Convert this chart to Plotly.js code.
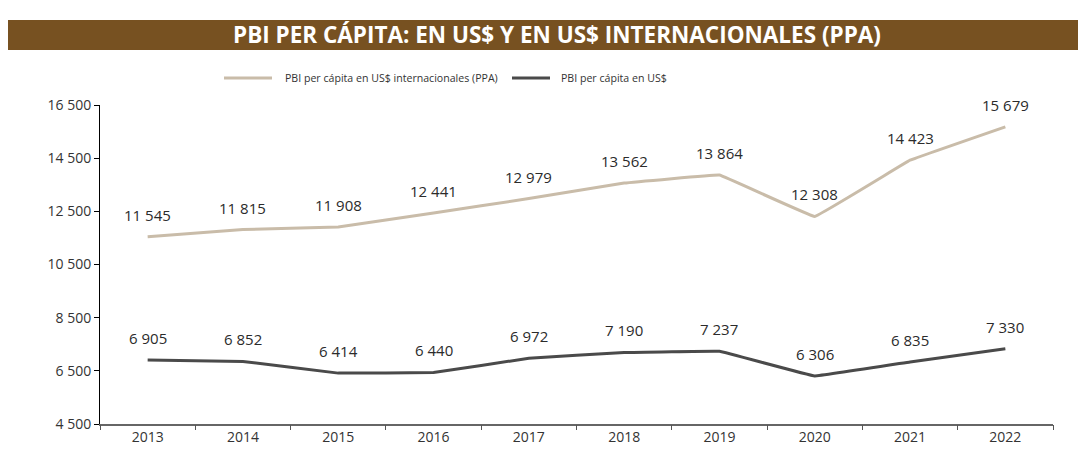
<!DOCTYPE html>
<html>
<head>
<meta charset="utf-8">
<script src="https://cdn.plot.ly/plotly-3.0.1.min.js"></script>
<style>html,body{margin:0;padding:0;background:#fff;}#chart{width:1085px;height:457px;}</style>
</head>
<body>
<div id="chart"></div>
<script>
const years = ["2013","2014","2015","2016","2017","2018","2019","2020","2021","2022"];
const ppa = [11545, 11815, 11908, 12441, 12979, 13562, 13864, 12308, 14423, 15679];
const usd = [6905, 6852, 6414, 6440, 6972, 7190, 7237, 6306, 6835, 7330];
const yTicks = [4500, 6500, 8500, 10500, 12500, 14500, 16500];
const seriesNames = ["PBI per cápita en US$ internacionales (PPA)", "PBI per cápita en US$"];
const seriesColors = ["#c9bca9", "#4a4a4a"];

function fmt(v){ return String(v).replace(/\B(?=(\d{3})+(?!\d))/g, " "); }

const FONT = "Open Sans, Noto Sans, sans-serif";
const L = 100, R = 32, T = 105, B = 33;
const W = 1085 - L - R, H = 457 - T - B;
const px = x => (x - L) / W;
const py = y => (457 - B - y) / H;

const idx = years.map((_, i) => i);
const traces = [ppa, usd].map((s, k) => ({
  x: idx, y: s, type: "scatter", mode: "lines", name: seriesNames[k],
  line: {color: seriesColors[k], width: 3, shape: "spline", smoothing: 0.12}, hoverinfo: "skip", showlegend: false
}));

const annotations = [];
[ppa, usd].forEach(series => {
  series.forEach((v, i) => {
    annotations.push({x: i, y: v, xref: "x", yref: "y", text: fmt(v), showarrow: false,
      yshift: 22, font: {family: FONT, size: 15, color: "#2b2b2b"}});
  });
});
annotations.push({xref: "paper", yref: "paper", x: px(557), y: py(35), text: "<b>PBI PER CÁPITA: EN US$ Y EN US$ INTERNACIONALES (PPA)</b>",
  showarrow: false, xanchor: "center", yanchor: "middle", font: {family: FONT, size: 22.5, color: "#ffffff"}});

// manual legend
const legX = [[224, 272, 283], [512, 550, 559]];
const shapes = [{type: "rect", xref: "paper", yref: "paper", x0: px(8), x1: px(1078), y0: py(50), y1: py(20),
    fillcolor: "#775121", line: {width: 0}, layer: "below"}];
seriesNames.forEach((n, k) => {
  shapes.push({type: "line", xref: "paper", yref: "paper", x0: px(legX[k][0]), x1: px(legX[k][1]), y0: py(78), y1: py(78),
    line: {color: seriesColors[k], width: 3}});
  annotations.push({xref: "paper", yref: "paper", x: px(legX[k][2]), y: py(78), text: n, showarrow: false,
    xanchor: "left", yanchor: "middle", font: {family: FONT, size: 10.6, color: "#333"}});
});

const layout = {
  width: 1085, height: 457,
  margin: {l: L, r: R, t: T, b: B},
  paper_bgcolor: "#fff", plot_bgcolor: "#fff",
  font: {family: FONT, size: 14, color: "#333"},
  showlegend: false,
  xaxis: {type: "linear", range: [-0.5, 9.5], tickvals: idx, ticktext: years, ticks: "", showline: true,
    linecolor: "#666", linewidth: 1.5, showgrid: false, zeroline: false,
    tickfont: {family: FONT, size: 14, color: "#333"}, fixedrange: true},
  xaxis2: {type: "linear", range: [-0.5, 9.5], overlaying: "x", tickvals: idx.concat([idx.length]).map(i => i - 0.5),
    ticktext: idx.concat([idx.length]).map(() => ""), ticks: "outside", ticklen: 5, tickcolor: "#555",
    showline: false, showgrid: false, zeroline: false, anchor: "y", side: "bottom", fixedrange: true},
  yaxis: {range: [4500, 16500], tickvals: yTicks, ticktext: yTicks.map(fmt), ticks: "outside", ticklen: 5,
    tickcolor: "#000", showline: true, linecolor: "#000", linewidth: 1, showgrid: false, zeroline: false,
    tickfont: {family: FONT, size: 14, color: "#333"}, fixedrange: true},
  shapes: shapes,
  annotations: annotations
};
traces.push({x: [0], y: [null], xaxis: "x2", yaxis: "y", type: "scatter", mode: "lines", showlegend: false, hoverinfo: "skip"});

Plotly.newPlot("chart", traces, layout, {displayModeBar: false, staticPlot: true});
</script>
</body>
</html>
